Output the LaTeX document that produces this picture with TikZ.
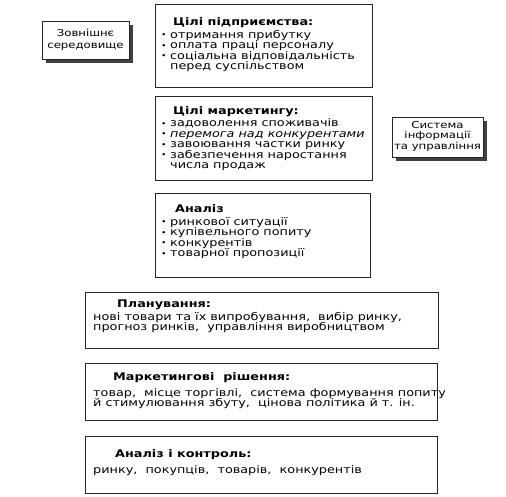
\documentclass[tikz,border=0pt]{standalone}
\usepackage{fontspec}
\setmainfont{DejaVu Sans}[FakeStretch=1.22]
\begin{document}
\begin{tikzpicture}[x=1pt,y=-1pt,
  box/.style={draw=black!85, line width=1pt, fill=white, anchor=north west, inner sep=0pt},
  shade/.style={fill=black!75, draw=none, anchor=north west, inner sep=0pt},
  txt/.style={anchor=base west, inner sep=0pt, font=\fontsize{10.5}{10}\selectfont, text=black},
  head/.style={txt, font=\fontsize{10.5}{10}\selectfont\bfseries},
  ctr/.style={anchor=base, inner sep=0pt, font=\fontsize{9.6}{10}\selectfont, text=black},
  bul/.style={txt}]
\useasboundingbox (0,0) rectangle (506,496);
\newcommand{\bl}{\makebox[9pt][l]{\raisebox{0.5pt}{\fontsize{7.5}{8}\selectfont•}}}
% environment box
\node[shade, minimum width=87pt, minimum height=38pt] (envsh) at (46,25) {};
\node[box, minimum width=87pt, minimum height=38pt] (env) at (42,21) {};
\node[ctr] (env1) at (85.5,36.5) {Зовнішнє};
\node[ctr] (env2) at (85.5,48.5) {середовище};
% info box
\node[shade, minimum width=91pt, minimum height=40pt] (infsh) at (396,121) {};
\node[box, minimum width=91pt, minimum height=40pt] (inf) at (392,117) {};
\node[ctr] (inf1) at (437.5,128) {Система};
\node[ctr] (inf2) at (437.5,138.5) {інформації};
\node[ctr] (inf3) at (437.5,149.5) {та управління};
% goals
\node[box, minimum width=217pt, minimum height=83pt] (goals) at (155,4) {};
\node[head] (g0) at (173,25) {Цілі підприємства:};
\node[bul] (g1) at (161,38) {\bl отримання прибутку};
\node[bul] (g2) at (161,48.5) {\bl оплата праці персоналу};
\node[bul] (g3) at (161,59) {\bl соціальна відповідальність};
\node[bul] (g4) at (161,69.5) {\hspace{9pt}перед суспільством};
% marketing goals
\node[box, minimum width=217pt, minimum height=84pt] (mkt) at (155,96) {};
\node[head] (m0) at (173,114) {Цілі маркетингу:};
\node[bul] (m1) at (161,126.5) {\bl задоволення споживачів};
\node[bul] (m2) at (161,137) {\bl \itshape перемога над конкурентами};
\node[bul] (m3) at (161,147.5) {\bl завоювання частки ринку};
\node[bul] (m4) at (161,158) {\bl забезпечення наростання};
\node[bul] (m5) at (161,168.5) {\hspace{9pt}числа продаж};
% analysis
\node[box, minimum width=215pt, minimum height=84pt] (ana) at (155,193) {};
\node[head] (a0) at (175,212) {Аналіз};
\node[bul] (a1) at (161,225) {\bl ринкової ситуації};
\node[bul] (a2) at (161,235.5) {\bl купівельного попиту};
\node[bul] (a3) at (161,246) {\bl конкурентів};
\node[bul] (a4) at (161,256.5) {\bl товарної пропозиції};
% planning
\node[box, minimum width=353pt, minimum height=56pt] (plan) at (85,292) {};
\node[head] (p0) at (117,307) {Планування:};
\node[txt] (p1) at (93,320) {нові товари та їх випробування,\ \ вибір ринку,};
\node[txt] (p2) at (93,330.5) {прогноз ринків,\ \ управління виробництвом};
% decisions
\node[box, minimum width=352pt, minimum height=57pt] (dec) at (85,363) {};
\node[head] (d0) at (113,380) {Маркетингові\ \ рішення:};
\node[txt] (d1) at (93,396) {товар,\ \ місце торгівлі,\ \ система формування попиту};
\node[txt] (d2) at (93,406.5) {й стимулювання збуту,\ \ цінова політика й т. ін.};
% control
\node[box, minimum width=352pt, minimum height=57pt] (ctl) at (85,436) {};
\node[head] (c0) at (115,457) {Аналіз і контроль:};
\node[txt] (c1) at (93,473) {ринку,\ \ покупців,\ \ товарів,\ \ конкурентів};
\end{tikzpicture}
\end{document}
